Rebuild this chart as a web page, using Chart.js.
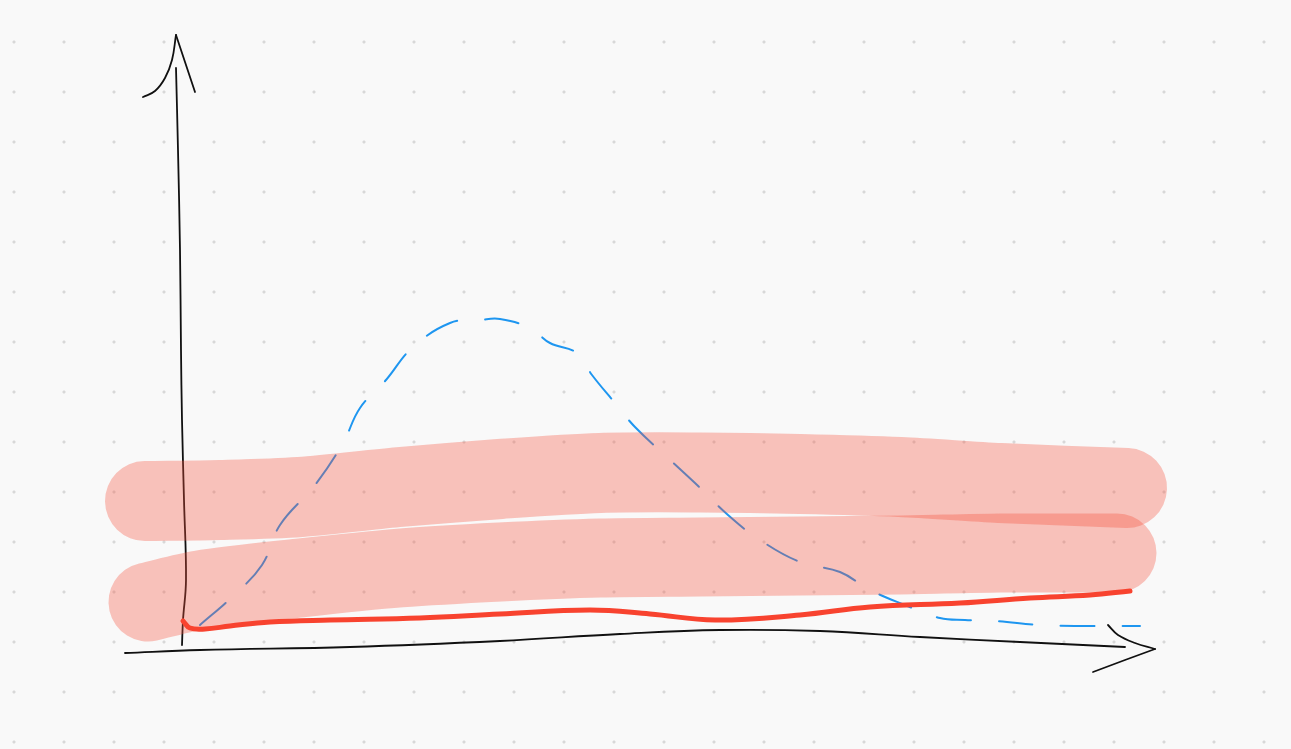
<!DOCTYPE html>
<html>
<head>
<meta charset="utf-8">
<script src="https://cdn.jsdelivr.net/npm/chart.js@4"></script>
<style>
  html, body { margin: 0; padding: 0; }
  body {
    width: 1291px; height: 749px; overflow: hidden;
    background-color: #f9f9f9;
    background-image: radial-gradient(circle at center, #d8d8d8 1.2px, rgba(249,249,249,0) 1.9px);
    background-size: 50px 50px;
    background-position: -11px 17px;
  }
  #wrap { position: absolute; left: 0; top: 0; width: 1291px; height: 749px; }
</style>
</head>
<body>
<div id="wrap"><canvas id="c"></canvas></div>
<script>
// Blue dashed curve
const blueX = [0.20, 0.52, 0.82, 1.00, 1.35, 1.63, 1.80, 2.06, 2.32, 2.70, 3.00, 3.20, 3.50, 3.70, 3.97, 4.12, 4.35, 4.55, 4.88, 5.15, 5.48, 5.80, 6.20, 6.60, 6.90, 7.25, 7.60, 7.85, 8.15, 8.60, 8.95, 9.30, 9.60];
const blueY = [0.20, 0.48, 0.80, 1.20, 1.60, 2.02, 2.37, 2.65, 2.97, 3.22, 3.25, 3.26, 3.17, 3.02, 2.92, 2.70, 2.42, 2.18, 1.87, 1.62, 1.30, 1.05, 0.83, 0.73, 0.55, 0.40, 0.27, 0.25, 0.24, 0.20, 0.19, 0.19, 0.19];
// Red thick line
const redX = [0.03, 0.10, 0.25, 0.50, 0.90, 1.50, 2.40, 3.20, 4.10, 4.70, 5.35, 6.20, 6.90, 7.80, 8.50, 9.10, 9.50];
const redY = [0.24, 0.17, 0.16, 0.19, 0.23, 0.25, 0.27, 0.31, 0.35, 0.31, 0.25, 0.30, 0.38, 0.42, 0.47, 0.50, 0.54];
// Pink highlighter bands
const bandUpperX = [-0.35, 0.40, 1.20, 2.20, 3.20, 4.20, 5.20, 6.20, 7.20, 8.20, 9.47];
const bandUpperY = [1.44, 1.45, 1.48, 1.58, 1.66, 1.72, 1.725, 1.71, 1.68, 1.62, 1.57];
const bandLowerX = [-0.32, 0.20, 1.20, 2.20, 3.20, 4.20, 5.20, 6.20, 7.20, 8.20, 9.37];
const bandLowerY = [0.43, 0.55, 0.67, 0.77, 0.83, 0.87, 0.88, 0.89, 0.90, 0.92, 0.92];
// Hand-drawn axes
const yAxisX = [-0.04, -0.02, 0.00, 0.01, 0.02, 0.04, 0.06, 0.03, 0.02];
const yAxisY = [5.77, 4.95, 3.95, 2.95, 2.25, 1.45, 0.65, 0.25, 0.00];
const yArrowLX = [-0.37, -0.25, -0.15, -0.08, -0.04];
const yArrowLY = [5.48, 5.54, 5.67, 5.85, 6.10];
const yArrowRX = [-0.04, 0.05, 0.15];
const yArrowRY = [6.10, 5.83, 5.53];
const xAxisX = [-0.55, 0.20, 1.70, 3.20, 4.40, 5.40, 6.40, 7.40, 8.40, 9.45];
const xAxisY = [-0.08, -0.05, -0.02, 0.04, 0.11, 0.15, 0.14, 0.08, 0.03, -0.02];
const xArrowUX = [9.28, 9.38, 9.55, 9.75];
const xArrowUY = [0.20, 0.10, 0.02, -0.04];
const xArrowLX = [9.75, 9.45, 9.13];
const xArrowLY = [-0.04, -0.15, -0.27];

const pts = (xs, ys) => xs.map((x, i) => ({ x: x, y: ys[i] }));

function stroke(xs, ys, color, width, order, extra) {
  return Object.assign({
    data: pts(xs, ys),
    borderColor: color,
    borderWidth: width,
    pointRadius: 0,
    fill: false,
    tension: 0.4,
    borderCapStyle: 'round',
    borderJoinStyle: 'round',
    order: order
  }, extra || {});
}

const ink = '#111111';
const pink = 'rgba(246,78,57,0.33)';

new Chart(document.getElementById('c'), {
  type: 'line',
  data: {
    datasets: [
      stroke(redX, redY, '#f8432f', 5, 0),
      stroke(bandUpperX, bandUpperY, pink, 80, 1, { tension: 0.3 }),
      stroke(bandLowerX, bandLowerY, pink, 79, 1, { tension: 0.3 }),
      stroke(yAxisX, yAxisY, ink, 1.8, 2),
      stroke(yArrowLX, yArrowLY, ink, 1.8, 2),
      stroke(yArrowRX, yArrowRY, ink, 1.8, 2, { tension: 0 }),
      stroke(xAxisX, xAxisY, ink, 1.8, 2),
      stroke(xArrowUX, xArrowUY, ink, 1.8, 2),
      stroke(xArrowLX, xArrowLY, ink, 1.8, 2, { tension: 0 }),
      stroke(blueX, blueY, '#1e96f0', 2, 3, { borderDash: [34, 28] })
    ]
  },
  options: {
    responsive: true,
    maintainAspectRatio: false,
    animation: false,
    layout: { padding: 0 },
    plugins: { legend: { display: false }, tooltip: { enabled: false } },
    events: [],
    scales: {
      x: { type: 'linear', display: false, min: -1.80, max: 11.11 },
      y: { type: 'linear', display: false, min: -1.04, max: 6.45 }
    }
  }
});
</script>
</body>
</html>
